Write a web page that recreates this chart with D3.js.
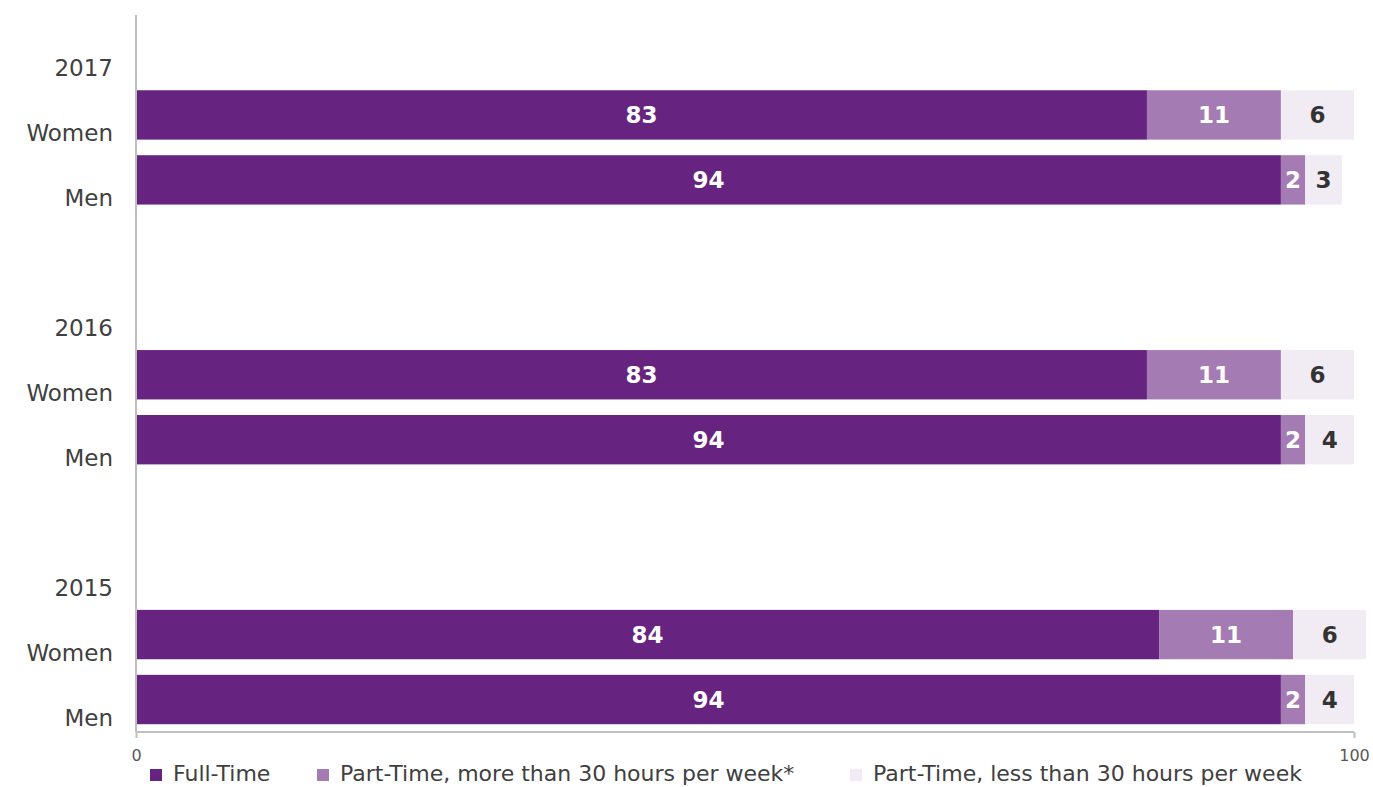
<!DOCTYPE html>
<html>
<head>
<meta charset="utf-8">
<script src="https://cdn.jsdelivr.net/npm/d3@7"></script>
<style>
  html, body { margin: 0; padding: 0; background: #fff; }
  svg { display: block; }
  text { font-family: "DejaVu Sans", sans-serif; }
</style>
</head>
<body>
<svg id="chart" width="1373" height="787"></svg>
<script>
// Employment status by gender, share of employees (%)
const years = ["2017", "2016", "2015"];
const genders = ["Women", "Men"];
const seriesNames = [
  "Full-Time",
  "Part-Time, more than 30 hours per week*",
  "Part-Time, less than 30 hours per week"
];
const fullTime    = { "2017": [83, 94], "2016": [83, 94], "2015": [84, 94] };
const partTimeMore = { "2017": [11, 2], "2016": [11, 2], "2015": [11, 2] };
const partTimeLess = { "2017": [6, 3],  "2016": [6, 4],  "2015": [6, 4] };
const xTicks = [0, 100];

const colors = ["#672380", "#a57bb3", "#f1ecf4"];
const labelColors = ["#ffffff", "#ffffff", "#333333"];

const svg = d3.select("#chart");

// Row slots: year heading, Women, Men, spacer — repeated per year
const slots = [];
years.forEach((yr, i) => {
  slots.push({ key: yr + "-h", label: yr, type: "year" });
  genders.forEach(g => slots.push({ key: yr + "-" + g, label: g, type: "bar", year: yr, gender: g }));
  if (i < years.length - 1) slots.push({ key: yr + "-gap", label: "", type: "gap" });
});

const x = d3.scaleLinear().domain([0, 100]).range([136, 1354]);
const y = d3.scaleBand().domain(slots.map(s => s.key)).range([17.5, 732]).paddingInner(0.24).paddingOuter(0.12);

// Build stacked rows
const rows = slots.filter(s => s.type === "bar").map(s => {
  const gi = genders.indexOf(s.gender);
  const vals = [fullTime[s.year][gi], partTimeMore[s.year][gi], partTimeLess[s.year][gi]];
  let acc = 0;
  const segs = vals.map((v, k) => {
    const seg = { key: s.key, k, v, x0: acc, x1: acc + v };
    acc += v;
    return seg;
  });
  return { key: s.key, segs };
});

const bars = svg.append("g");
rows.forEach(r => {
  const g = bars.append("g");
  g.selectAll("rect").data(r.segs).join("rect")
    .attr("x", d => x(d.x0))
    .attr("y", y(r.key))
    .attr("width", d => x(d.x1) - x(d.x0))
    .attr("height", y.bandwidth())
    .attr("fill", d => colors[d.k]);
  g.selectAll("text").data(r.segs).join("text")
    .attr("x", d => (x(d.x0) + x(d.x1)) / 2)
    .attr("y", y(r.key) + y.bandwidth() / 2)
    .attr("dy", "0.36em")
    .attr("text-anchor", "middle")
    .attr("font-size", 23)
    .attr("font-weight", "bold")
    .attr("fill", d => labelColors[d.k])
    .text(d => d.v);
});

// Category labels
const slotCenter = k => y(k) + y.bandwidth() / 2;
svg.append("g").selectAll("text").data(slots.filter(s => s.label)).join("text")
  .attr("x", 113)
  .attr("y", d => slotCenter(d.key) + 26)
  .attr("text-anchor", "end")
  .attr("font-size", 23)
  .attr("fill", "#404040")
  .text(d => d.label);

// Axes
const axisColor = "#bfbfbf";
svg.append("line")
  .attr("x1", 136).attr("x2", 136).attr("y1", 15).attr("y2", 732)
  .attr("stroke", axisColor).attr("stroke-width", 2);

const xAxis = svg.append("g").attr("transform", "translate(0,732)")
  .call(d3.axisBottom(x).tickValues(xTicks).tickSize(6).tickPadding(12).tickFormat(d3.format("d")));
xAxis.select(".domain").attr("stroke", axisColor).attr("stroke-width", 2).attr("d", "M136,0H1354");
xAxis.selectAll(".tick line").attr("stroke", axisColor).attr("stroke-width", 2);
xAxis.selectAll(".tick text").attr("font-size", 16).attr("fill", "#595959")
  .attr("font-family", "DejaVu Sans, sans-serif");

// Legend
const legendX = [150, 317, 850];
const legend = svg.append("g").attr("transform", "translate(0,773)");
seriesNames.forEach((name, i) => {
  const item = legend.append("g").attr("transform", `translate(${legendX[i]},0)`);
  item.append("rect").attr("x", 0).attr("y", -4).attr("width", 12).attr("height", 12).attr("fill", colors[i]);
  item.append("text").attr("x", 23).attr("y", 0).attr("dy", "0.36em")
    .attr("font-size", 22).attr("fill", "#404040").text(name);
});
</script>
</body>
</html>
